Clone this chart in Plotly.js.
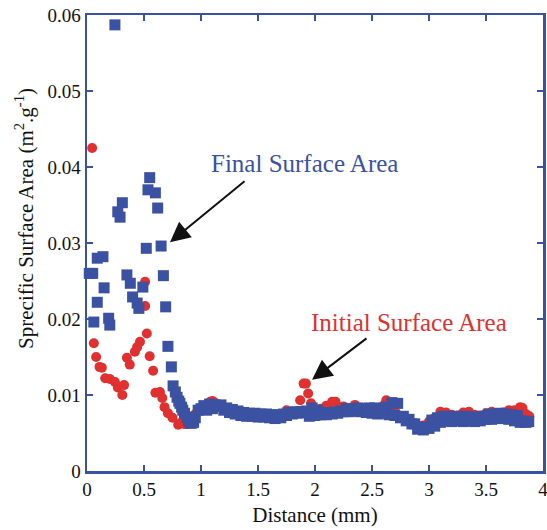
<!DOCTYPE html>
<html>
<head>
<meta charset="utf-8">
<script src="https://cdn.plot.ly/plotly-3.0.1.min.js"></script>
<style>html,body{margin:0;padding:0;background:#fff;}#chart{width:547px;height:530px;}</style>
</head>
<body>
<div id="chart"></div>
<script>
// Final surface area (blue squares)
const finalX = [0.02,0.05,0.06,0.09,0.09,0.14,0.15,0.19,0.20,0.245,0.27,0.29,0.31,0.35,0.38,0.40,0.44,0.455,0.49,0.52,0.535,0.55,0.60,0.62,0.65,0.67,0.69,0.71,0.74,0.755,
0.775,0.79,0.805,0.815,0.83,0.84,0.855,0.875,0.89,0.905,0.92,0.935,
0.95,0.975,1.0,1.025,1.05,1.075,1.1,1.125,1.15,1.175,1.2,1.225,1.25,1.275,1.3,1.325,1.35,1.375,1.4,1.425,1.45,1.475,1.5,1.525,1.55,1.575,1.6,1.625,1.65,1.675,1.7,1.725,1.75,1.775,1.8,1.825,1.85,1.875,1.9,1.925,1.95,1.975,
2.0,2.025,2.05,2.075,2.1,2.125,2.15,2.175,2.2,2.225,2.25,2.275,2.3,2.325,2.35,2.375,2.4,2.425,2.45,2.475,2.5,2.525,2.55,2.575,2.6,2.625,2.65,2.675,2.7,2.725,2.75,2.775,2.8,2.825,2.85,2.875,2.9,2.925,2.95,2.975,
3.0,3.025,3.05,3.075,3.1,3.125,3.15,3.175,3.2,3.225,3.25,3.275,3.3,3.325,3.35,3.375,3.4,3.425,3.45,3.475,3.5,3.525,3.55,3.575,3.6,3.625,3.65,3.675,3.7,3.725,3.75,3.775,3.8,3.825,3.85,3.875];
const finalY = [0.0260,0.0260,0.0196,0.0280,0.0222,0.0282,0.0241,0.0201,0.0192,0.0587,0.0341,0.0334,0.0353,0.0258,0.0247,0.0229,0.0221,0.0214,0.0242,0.0293,0.0370,0.0386,0.0366,0.0346,0.0296,0.0257,0.0216,0.0164,0.0137,0.0112,
0.0104,0.0097,0.0092,0.0089,0.0084,0.0080,0.0076,0.0071,0.0066,0.0063,0.0063,0.0064,
0.0070,0.0080,0.0082,0.0086,0.0080,0.0088,0.0082,0.0087,0.0085,0.0087,0.0080,0.0083,0.0077,0.0081,0.0075,0.0079,0.0073,0.0077,0.0072,0.0076,0.0072,0.0076,0.0071,0.0075,0.0071,0.0075,0.0070,0.0074,0.0069,0.0074,0.0070,0.0075,0.0073,0.0077,0.0075,0.0078,0.0076,0.0078,0.0077,0.0079,0.0072,0.0083,
0.0073,0.0080,0.0074,0.0077,0.0074,0.0077,0.0075,0.0078,0.0076,0.0079,0.0078,0.0082,0.0078,0.0082,0.0079,0.0083,0.0078,0.0082,0.0077,0.0083,0.0076,0.0083,0.0075,0.0082,0.0076,0.0084,0.0074,0.0090,0.0073,0.0089,0.0070,0.0072,0.0066,0.0068,0.0062,0.0062,0.0055,0.0058,0.0054,0.0057,
0.0056,0.0067,0.0059,0.0070,0.0064,0.0072,0.0066,0.0072,0.0065,0.0071,0.0066,0.0072,0.0065,0.0072,0.0066,0.0071,0.0065,0.0071,0.0066,0.0072,0.0068,0.0075,0.0068,0.0075,0.0069,0.0076,0.0069,0.0075,0.0068,0.0074,0.0066,0.0073,0.0064,0.0066,0.0064,0.0065];

// Initial surface area (red circles)
const initialX = [0.045,0.06,0.08,0.11,0.13,0.16,0.20,0.245,0.27,0.31,0.325,0.35,0.375,0.42,0.44,0.465,0.51,0.51,0.525,0.55,0.58,0.60,0.64,0.66,0.68,0.71,0.75,0.80,0.82,
0.85,0.875,0.9,0.95,1.0,1.05,1.08,1.1,1.12,1.15,1.2,1.25,1.3,1.35,1.4,1.45,1.5,1.55,1.6,1.64,1.7,1.75,1.8,1.85,1.87,1.9,1.92,1.94,1.965,
2.0,2.05,2.1,2.15,2.18,2.22,2.25,2.3,2.35,2.4,2.45,2.5,2.55,2.6,2.625,2.65,2.7,2.75,2.8,2.85,2.9,2.95,
3.0,3.05,3.1,3.15,3.2,3.25,3.3,3.35,3.4,3.45,3.5,3.55,3.6,3.65,3.7,3.75,3.8,3.82,3.85,3.88];
const initialY = [0.0425,0.0168,0.0150,0.0137,0.0136,0.0122,0.0121,0.0117,0.0110,0.0100,0.0113,0.0149,0.0140,0.0157,0.0163,0.0170,0.0249,0.0217,0.0181,0.0151,0.0132,0.0103,0.0104,0.0096,0.0084,0.0076,0.0070,0.0061,0.0063,
0.0062,0.0062,0.0063,0.0075,0.0082,0.0086,0.0091,0.0092,0.0090,0.0085,0.0081,0.0079,0.0076,0.0074,0.0073,0.0073,0.0072,0.0071,0.0070,0.0069,0.0072,0.0080,0.0078,0.0079,0.0093,0.0115,0.0115,0.0102,0.0089,
0.0080,0.0082,0.0086,0.0091,0.0091,0.0084,0.0085,0.0083,0.0087,0.0083,0.0081,0.0081,0.0083,0.0086,0.0093,0.0090,0.0082,0.0072,0.0067,0.0062,0.0058,0.0060,
0.0065,0.0070,0.0078,0.0077,0.0074,0.0073,0.0077,0.0078,0.0074,0.0073,0.0076,0.0078,0.0076,0.0077,0.0080,0.0080,0.0084,0.0083,0.0075,0.0072];

const xTitle = 'Distance (mm)';
const yTitle = 'Sprecific Surface Area (m<sup>2</sup>.g<sup>-1</sup>)';
const finalLabel = 'Final Surface Area';
const initialLabel = 'Initial Surface Area';

const BLUE = '#3b52a2';
const RED = '#e0302f';
const FONT = 'Liberation Serif';

const traces = [
  {x: initialX, y: initialY, type: 'scatter', mode: 'markers', name: initialLabel, cliponaxis: false,
   marker: {symbol: 'circle', size: 10, color: RED, line: {width: 0}}},
  {x: finalX, y: finalY, type: 'scatter', mode: 'markers', name: finalLabel, cliponaxis: false,
   marker: {symbol: 'square', size: 11, color: BLUE, line: {width: 0}}}
];

const axisCommon = {
  showline: true, linecolor: BLUE, linewidth: 2.5, mirror: 'ticks',
  ticks: 'inside', ticklen: 6, tickwidth: 1.5, tickcolor: BLUE,
  showgrid: false, zeroline: false, ticklabeloverflow: 'allow',
  tickfont: {family: FONT, size: 19, color: '#111'}
};

const layout = {
  width: 547, height: 530,
  margin: {l: 87, r: 4, t: 15, b: 59},
  paper_bgcolor: '#fff', plot_bgcolor: '#fff',
  showlegend: false,
  font: {family: FONT, color: '#111'},
  xaxis: Object.assign({}, axisCommon, {range: [0, 4], dtick: 0.5, tick0: 0,
    title: {text: xTitle, font: {family: FONT, size: 21, color: '#111'}, standoff: 8}}),
  yaxis: Object.assign({}, axisCommon, {range: [0, 0.06], dtick: 0.01, tick0: 0}),
  annotations: [
    {xref: 'paper', yref: 'paper', x: -0.136, y: 0.555, text: yTitle, textangle: -90, showarrow: false,
     font: {family: FONT, size: 21, color: '#111'}, xanchor: 'center', yanchor: 'middle'},
    {x: 1.912, y: 0.0405, text: finalLabel, showarrow: false, font: {family: FONT, size: 25, color: BLUE}},
    {x: 2.825, y: 0.0196, text: initialLabel, showarrow: false, font: {family: FONT, size: 25, color: RED}},
    {x: 0.728, y: 0.0301, ax: 1.395, ay: 0.0383, axref: 'x', ayref: 'y', text: '', showarrow: true,
     arrowhead: 2, arrowsize: 2, arrowwidth: 2, arrowcolor: '#111', standoff: 0},
    {x: 1.974, y: 0.0120, ax: 2.465, ay: 0.0176, axref: 'x', ayref: 'y', text: '', showarrow: true,
     arrowhead: 2, arrowsize: 2, arrowwidth: 2, arrowcolor: '#111', standoff: 0}
  ]
};

Plotly.newPlot('chart', traces, layout, {staticPlot: true, displayModeBar: false});
</script>
</body>
</html>
